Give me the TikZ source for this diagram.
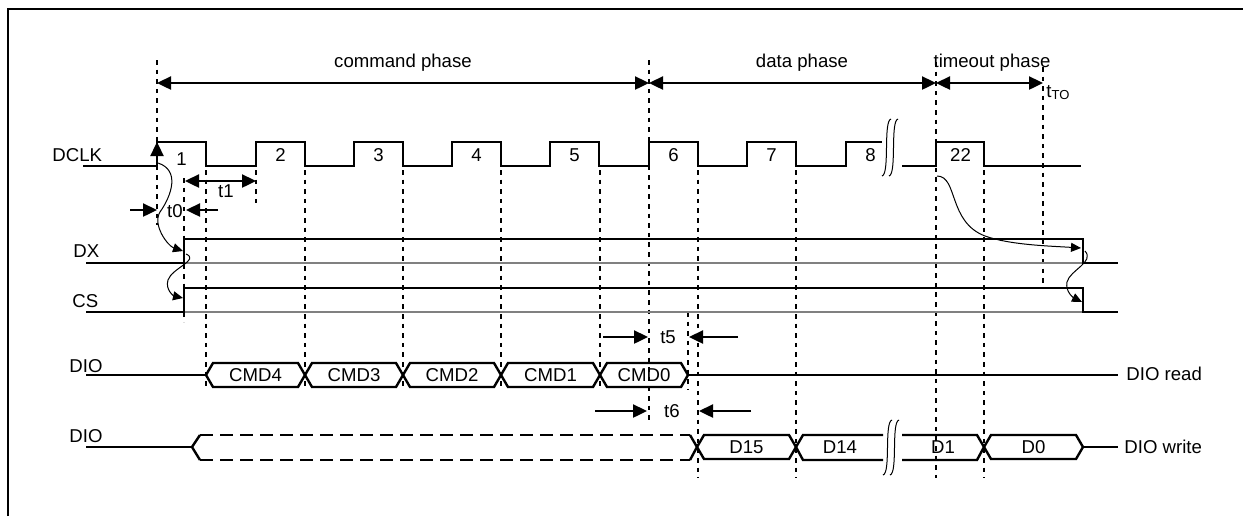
\documentclass[tikz,border=0pt]{standalone}
\usepackage{fontspec}
\setmainfont{Liberation Sans}
\usetikzlibrary{arrows.meta}
\def\busseg#1#2#3#4{
  \draw[sig] (#1,#3) -- (#1+7,#3-12) -- (#2-7,#3-12) -- (#2,#3)
      -- (#2-7,#3+12) -- (#1+7,#3+12) -- cycle;
  \node[lbl] (#4) at ({(#1+#2)/2},#3+6.5) {#4};
  }
\def\brk#1#2#3{
  \draw[thin line] (#1+9,#2) .. controls (#1+1,#2+2) and (#1+8,#3-2) .. (#1,#3);
  \draw[thin line] (#1+16,#2) .. controls (#1+8,#2+2) and (#1+15,#3-2) .. (#1+7,#3);
  }
\begin{document}
\begin{tikzpicture}[x=0.5pt,y=-0.5pt,
  font=\fontsize{9.3pt}{11pt}\selectfont,
  >={Triangle[length=7pt,width=6.5pt]},
  sig/.style={line width=1.2pt},
  ghost/.style={line width=0.6pt,gray},
  guide/.style={line width=1.1pt,dash pattern=on 2.3pt off 2.5pt},
  thin line/.style={line width=0.5pt},
  lbl/.style={inner sep=0pt,anchor=base}]

 \useasboundingbox (0,0) rectangle (1243,516);
 \draw[line width=1.2pt] (8,516) -- (8,9) -- (1243,9);

 \foreach \x/\a/\b in {157/60/225,184/178/322,206/170/390,256/170/205,
     305/170/390,403/170/390,501/170/390,600/170/390,649/60/422,688/312/390,
     698/170/478,796/170/478,936/62/478,984/170/478,1043/67/287}
   \draw[guide] (\x,\a) -- (\x,\b);

 \draw[sig,<->] (157,83) -- (649,83);
 \draw[sig,<->] (649,83) -- (936,83);
 \draw[sig,<->] (936,83) -- (1043,83);
 \node[lbl] (cmdph) at (403,67) {command phase};
 \node[lbl] (dataph) at (802,67) {data phase};
 \node[lbl] (toph) at (992,67) {timeout phase};
 \node[lbl,anchor=base west] (tto) at (1046,97) {t\textsubscript{TO}};

 \node[lbl,anchor=base west] (dclk) at (52,161) {DCLK};
 \node[lbl,anchor=base west] (dx) at (73,257) {DX};
 \node[lbl,anchor=base west] (cs) at (72,307) {CS};
 \node[lbl,anchor=base west] (dior) at (69,372) {DIO};
 \node[lbl,anchor=base west] (diow) at (69,442) {DIO};
 \node[lbl,anchor=base west] (readlbl) at (1126,380) {DIO read};
 \node[lbl,anchor=base west] (writelbl) at (1124,453) {DIO write};

 % DCLK
 \draw[sig] (83,166) \foreach \x in {157,256,354,452,550,649,747}
     { -- (\x,166) -- (\x,142) -- (\x+49,142) -- (\x+49,166) }
     -- (846,166) -- (846,142) -- (882,142);
 \draw[sig] (902,166) -- (936,166) -- (936,142) -- (984,142) -- (984,166) -- (1081,166);
 \foreach \x/\n/\y in {157/1/165,256/2/161,354/3/161,452/4/161,550/5/161,
     649/6/161,747/7/161,846/8/161,936/22/161}
   \node[lbl] (p\n) at (\x+24.5,\y) {\n};
 \draw[sig,->] (157,166) -- (157,142);
 \brk{882}{119}{176}

 % DX and CS
 \draw[ghost] (184,263) -- (1083,263);
 \draw[sig] (86,263) -- (184,263) -- (184,239) -- (1083,239) -- (1083,263) -- (1118,263);
 \draw[ghost] (184,312) -- (1083,312);
 \draw[sig] (86,312) -- (184,312) -- (184,288) -- (1083,288) -- (1083,312) -- (1118,312);

 % DIO read
 \draw[sig] (86,375) -- (206,375);
 \busseg{206}{305}{375}{CMD4}
 \busseg{305}{403}{375}{CMD3}
 \busseg{403}{501}{375}{CMD2}
 \busseg{501}{600}{375}{CMD1}
 \busseg{600}{688}{375}{CMD0}
 \draw[sig] (688,375) -- (1118,375);

 % DIO write
 \draw[sig] (86,447) -- (192,447);
 \draw[sig] (200,435) -- (192,447) -- (200,460);
 \draw[sig,dash pattern=on 6.5pt off 3.5pt] (200,435) -- (690,435);
 \draw[sig,dash pattern=on 6.5pt off 3.5pt] (200,460) -- (690,460);
 \draw[sig] (690,435) -- (697,447) -- (690,460);
 \busseg{697}{796}{447}{D15}
 \draw[sig] (883,435) -- (803,435) -- (796,447) -- (803,460) -- (883,460);
 \node[lbl] (D14) at (840,453.5) {D14};
 \draw[sig] (902,435) -- (977,435) -- (984,447) -- (977,460) -- (902,460);
 \node[lbl] (D1) at (943,453.5) {D1};
 \busseg{984}{1083}{447}{D0}
 \draw[sig] (1083,447) -- (1118,447);
 \brk{883}{420}{475}

 % timings
 \draw[sig,->] (130,210) -- (157,210);
 \draw[sig,->] (218,210) -- (186,210);
 \node[lbl] (t0) at (175,217) {t0};
 \draw[sig,<->] (185,181) -- (256,181);
 \node[lbl] (t1) at (226,197) {t1};
 \draw[sig,->] (603,337) -- (648,337);
 \draw[sig,->] (738,337) -- (689,337);
 \node[lbl] (t5) at (668,343) {t5};
 \draw[sig,->] (595,411) -- (647,411);
 \draw[sig,->] (751,411) -- (699,411);
 \node[lbl] (t6) at (672,417) {t6};

 \begin{scope}[thin line,->,>={Triangle[length=5pt,width=4.5pt]}]
  \draw (158,163) .. controls (180,170) and (172,195) .. (160,212)
     .. controls (152,225) and (168,246) .. (183,251);
  \draw (186,254) .. controls (200,260) and (172,268) .. (168,280)
     .. controls (165,290) and (174,296) .. (183,298);
  \draw (937,176) .. controls (958,176) and (948,222) .. (985,236)
     .. controls (1010,245) and (1050,246) .. (1081,248);
  \draw (1085,251) .. controls (1095,262) and (1070,270) .. (1067,282)
     .. controls (1065,292) and (1074,298) .. (1082,302);
 \end{scope}
\end{tikzpicture}
\end{document}
